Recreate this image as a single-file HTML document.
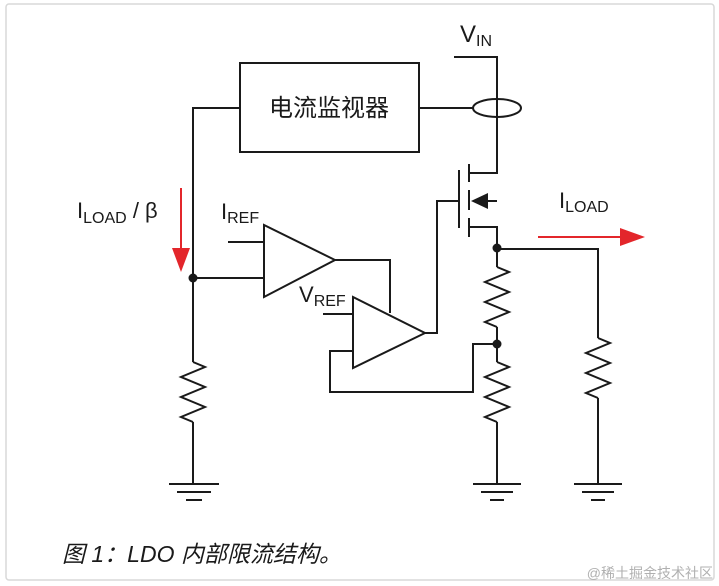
<!DOCTYPE html>
<html><head><meta charset="utf-8"><style>
html,body{margin:0;padding:0;background:#fff;}
svg{display:block}
</style></head><body>
<svg width="719" height="586" viewBox="0 0 719 586" xmlns="http://www.w3.org/2000/svg" font-family="Liberation Sans, Noto Sans CJK SC, sans-serif">
<rect x="0" y="0" width="719" height="586" fill="#fff"/>
<rect x="6" y="4" width="708" height="576" rx="3" fill="none" stroke="#d8d8d8" stroke-width="1.5"/>
<g fill="none" stroke="#1a1a1a" stroke-width="2">
<rect x="240" y="63" width="179" height="89"/>
<polyline points="240,108 193,108 193,362"/>
<polyline points="193,422 193,484"/>
<polyline points="193,362 205,367 181,377 205,387 181,397 205,407 181,417 193,422"/>
<line x1="169" y1="484" x2="219" y2="484"/><line x1="177" y1="492" x2="211" y2="492"/><line x1="186" y1="500" x2="202" y2="500"/>
<polygon points="264,225 264,297 335,260"/>
<line x1="228" y1="242" x2="264" y2="242"/>
<line x1="193" y1="278" x2="264" y2="278"/>
<polyline points="335,260 390,260 390,313"/>
<polygon points="353,297 353,368 425,333"/>
<line x1="323" y1="314" x2="353" y2="314"/>
<polyline points="353,351 330,351 330,392 473,392 473,344 497,344"/>
<polyline points="425,333 437,333 437,201 458,201"/>
<line x1="459" y1="170" x2="459" y2="228"/>
<line x1="469" y1="164" x2="469" y2="182"/>
<line x1="469" y1="190" x2="469" y2="210"/>
<line x1="469" y1="218" x2="469" y2="237"/>
<polyline points="469,173 497,173 497,57 454,57"/>
<line x1="476" y1="201" x2="497" y2="201"/>
<polyline points="469,227 497,227 497,267"/>
<ellipse cx="497" cy="108" rx="24" ry="9"/>
<line x1="419" y1="108" x2="473" y2="108"/>
<polyline points="497,267 509,272 485,282 509,292 485,302 509,312 485,322 497,327"/>
<line x1="497" y1="327" x2="497" y2="362"/>
<polyline points="497,362 509,367 485,377 509,387 485,397 509,407 485,417 497,422"/>
<line x1="497" y1="422" x2="497" y2="484"/>
<line x1="473" y1="484" x2="521" y2="484"/><line x1="481" y1="492" x2="513" y2="492"/><line x1="490" y1="500" x2="504" y2="500"/>
<polyline points="497,249 598,249 598,338"/>
<polyline points="598,338 610,343 586,353 610,363 586,373 610,383 586,393 598,398"/>
<line x1="598" y1="398" x2="598" y2="484"/>
<line x1="574" y1="484" x2="622" y2="484"/><line x1="582" y1="492" x2="614" y2="492"/><line x1="591" y1="500" x2="605" y2="500"/>
</g>
<polygon points="471,201 488,193 488,209" fill="#1a1a1a"/>
<circle cx="193" cy="278" r="4.5" fill="#1a1a1a"/>
<circle cx="497" cy="248" r="4.5" fill="#1a1a1a"/>
<circle cx="497" cy="344" r="4.5" fill="#1a1a1a"/>
<line x1="181" y1="188" x2="181" y2="250" stroke="#e3262b" stroke-width="2"/>
<polygon points="172,248 190,248 181,272" fill="#e3262b"/>
<line x1="538" y1="237" x2="622" y2="237" stroke="#e3262b" stroke-width="2"/>
<polygon points="620,228 620,246 645,237" fill="#e3262b"/>
<g fill="#1a1a1a">
<text x="329" y="116" font-size="24" text-anchor="middle">电流监视器</text>
<text x="460" y="42" font-size="24">V<tspan font-size="16" dy="4">IN</tspan></text>
<text x="559" y="208" font-size="22">I<tspan font-size="16" dy="4">LOAD</tspan></text>
<text x="77" y="218" font-size="22">I<tspan font-size="16" dy="5">LOAD</tspan><tspan font-size="22" dy="-5"> / β</tspan></text>
<text x="221" y="219" font-size="22">I<tspan font-size="16" dy="4">REF</tspan></text>
<text x="299" y="302" font-size="22">V<tspan font-size="16" dy="4">REF</tspan></text>
<text x="62" y="562" font-size="23" font-style="italic">图 1：LDO 内部限流结构。</text>
</g>
<text x="713" y="578" font-size="14" fill="#b0b0b0" text-anchor="end">@稀土掘金技术社区</text>
</svg>
</body></html>
